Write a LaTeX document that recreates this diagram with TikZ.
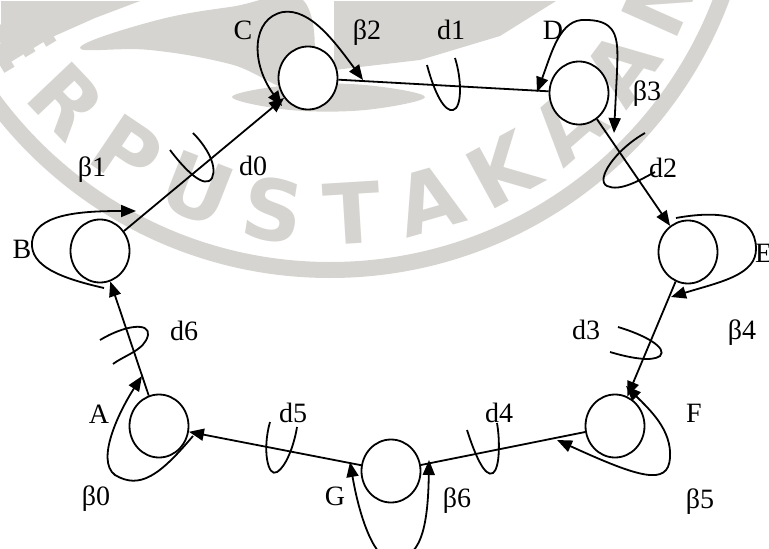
\documentclass[tikz,border=0pt]{standalone}
\usepackage{fontspec}
\setmainfont{Liberation Serif}
\newfontfamily\markfont{DejaVu Sans}
\usetikzlibrary{arrows.meta,shapes.geometric,calc}
\definecolor{wm}{RGB}{214,212,208}
\tikzset{
  state/.style={ellipse,draw,line width=1.8pt,minimum width=59pt,minimum height=63pt,inner sep=0pt,fill=white},
  edge/.style={line width=1.8pt},
  tip/.style={-{Triangle[length=15pt,width=12pt]}},
  bothtips/.style={{Triangle[length=15pt,width=12pt]}-{Triangle[length=15pt,width=12pt]}},
  twist/.style={line width=1.8pt},
  lbl/.style={font=\fontsize{28}{28}\selectfont,inner sep=0pt,anchor=base},
  wmletter/.style={font=\markfont\bfseries\fontsize{84}{84}\selectfont,text=wm,inner sep=0pt}
}
\begin{document}
\begin{tikzpicture}[x=1pt,y=-1pt]
\useasboundingbox (0,0) rectangle (769,549);

% emblem inside the seal
\fill[wm] (1,1) -- (140,1) -- (95,18) -- (50,38) -- (1,68) -- cycle;
\fill[wm] plot[smooth cycle,tension=0.7] coordinates
  {(80,48) (150,22) (230,7) (304,1) (304,88) (230,64) (150,50)};
\fill[wm] (334,1) -- (334,70) -- (420,60) -- (500,36) -- (556,1) -- cycle;
\fill[wm] plot[smooth cycle,tension=0.6] coordinates
  {(232,97) (290,85) (365,85) (425,97) (365,110) (290,110)};

% seal ring and lettering
\begin{scope}
\clip (0,0) rectangle (769,549);
\draw[wm,line width=16pt] (330,-148) circle (418);
\foreach \ch [count=\k from 0] in {P,E,R,P,U,S,T,A,K,A,A,N}{
  \pgfmathsetmacro{\ang}{161.5-12.5*\k}
  \node[wmletter,rotate={90-\ang}] at ($(330,-148)+(\ang:362)$) {\ch};
}
\end{scope}

% states
\node[state] (A) at (159,426) {};
\node[state] (B) at (100,251) {};
\node[state] (C) at (308,78) {};
\node[state] (D) at (579,93) {};
\node[state] (E) at (688,252) {};
\node[state] (F) at (615,426) {};
\node[state] (G) at (391,471) {};

% ring connections
\draw[edge,tip] (A) -- (B);
\draw[edge,tip] (B) -- (C);
\draw[edge] (C) -- (D);
\draw[edge,tip] (D) -- (E);
\draw[edge,tip] (E) -- (F);
\draw[edge] (F) -- (G);
\draw[edge,tip] (G) -- (A);

% self loops
\coordinate (cl1) at (282,106);
\coordinate (cl2) at (363,80);
\draw[edge,bothtips] (cl2) .. controls (335,42) and (310,8) .. (283,12)
  .. controls (252,18) and (250,62) .. (cl1);
\coordinate (dl1) at (537,92);
\coordinate (dl2) at (614,133);
\draw[edge,bothtips] (dl1) .. controls (552,52) and (560,18) .. (586,20)
  .. controls (620,20) and (618,42) .. (617,72) -- (dl2);
\coordinate (bl1) at (104,288);
\coordinate (bl2) at (136,211);
\draw[edge,tip] (bl1) .. controls (60,278) and (30,266) .. (32,242)
  .. controls (35,214) and (80,211) .. (bl2);
\coordinate (el1) at (676,218);
\coordinate (el2) at (671,297);
\draw[edge,tip] (el1) .. controls (720,210) and (755,215) .. (756,248)
  .. controls (757,275) and (720,282) .. (el2);
\coordinate (fl1) at (626,386);
\coordinate (fl2) at (557,440);
\draw[edge,bothtips] (fl1) .. controls (650,410) and (672,430) .. (670,458)
  .. controls (668,486) and (640,478) .. (fl2);
\coordinate (gl1) at (350,462);
\coordinate (gl2) at (429,460);
\draw[edge,bothtips] (gl1) .. controls (360,520) and (375,560) .. (392,560)
  .. controls (420,560) and (428,530) .. (gl2);
\coordinate (al1) at (193,436);
\coordinate (al2) at (142,376);
\draw[edge,tip] (al1) .. controls (160,475) and (140,490) .. (115,475)
  .. controls (95,460) and (120,410) .. (al2);

% twisted marks crossing the connections
\draw[twist] (170,150) .. controls (185,170) and (205,190) .. (212,178)
  .. controls (218,165) and (205,145) .. (193,133);
\draw[twist] (427,65) .. controls (435,95) and (445,112) .. (453,110)
  .. controls (462,108) and (462,80) .. (455,58);
\draw[twist] (645,133) .. controls (615,150) and (595,180) .. (607,186)
  .. controls (620,192) and (640,180) .. (655,172);
\draw[twist] (618,327) .. controls (645,335) and (668,348) .. (660,356)
  .. controls (652,362) and (630,358) .. (610,352);
\draw[twist] (467,430) .. controls (475,455) and (485,478) .. (493,473)
  .. controls (500,468) and (500,440) .. (497,423);
\draw[twist] (270,422) .. controls (262,450) and (268,478) .. (277,472)
  .. controls (288,465) and (295,440) .. (297,427);
\draw[twist] (100,340) .. controls (125,325) and (150,322) .. (148,335)
  .. controls (145,350) and (125,355) .. (113,364);

% labels
\node[lbl] (tA) at (99,423) {A};
\node[lbl] (tB) at (22,258) {B};
\node[lbl] (tC) at (243,39) {C};
\node[lbl] (tD) at (553,39) {D};
\node[lbl,anchor=base west] (tE) at (755,262) {E};
\node[lbl] (tF) at (694,422) {F};
\node[lbl] (tG) at (335,505) {G};
\node[lbl] (b0) at (96,505) {β0};
\node[lbl] (b1) at (92,176) {β1};
\node[lbl] (b2) at (367,39) {β2};
\node[lbl] (b3) at (647,100) {β3};
\node[lbl] (b4) at (742,339) {β4};
\node[lbl] (b5) at (700,508) {β5};
\node[lbl] (b6) at (457,507) {β6};
\node[lbl] (d0) at (253,175) {d0};
\node[lbl] (d1) at (451,39) {d1};
\node[lbl] (d2) at (663,177) {d2};
\node[lbl] (d3) at (586,339) {d3};
\node[lbl] (d4) at (499,422) {d4};
\node[lbl] (d5) at (293,422) {d5};
\node[lbl] (d6) at (184,340) {d6};
\end{tikzpicture}
\end{document}
